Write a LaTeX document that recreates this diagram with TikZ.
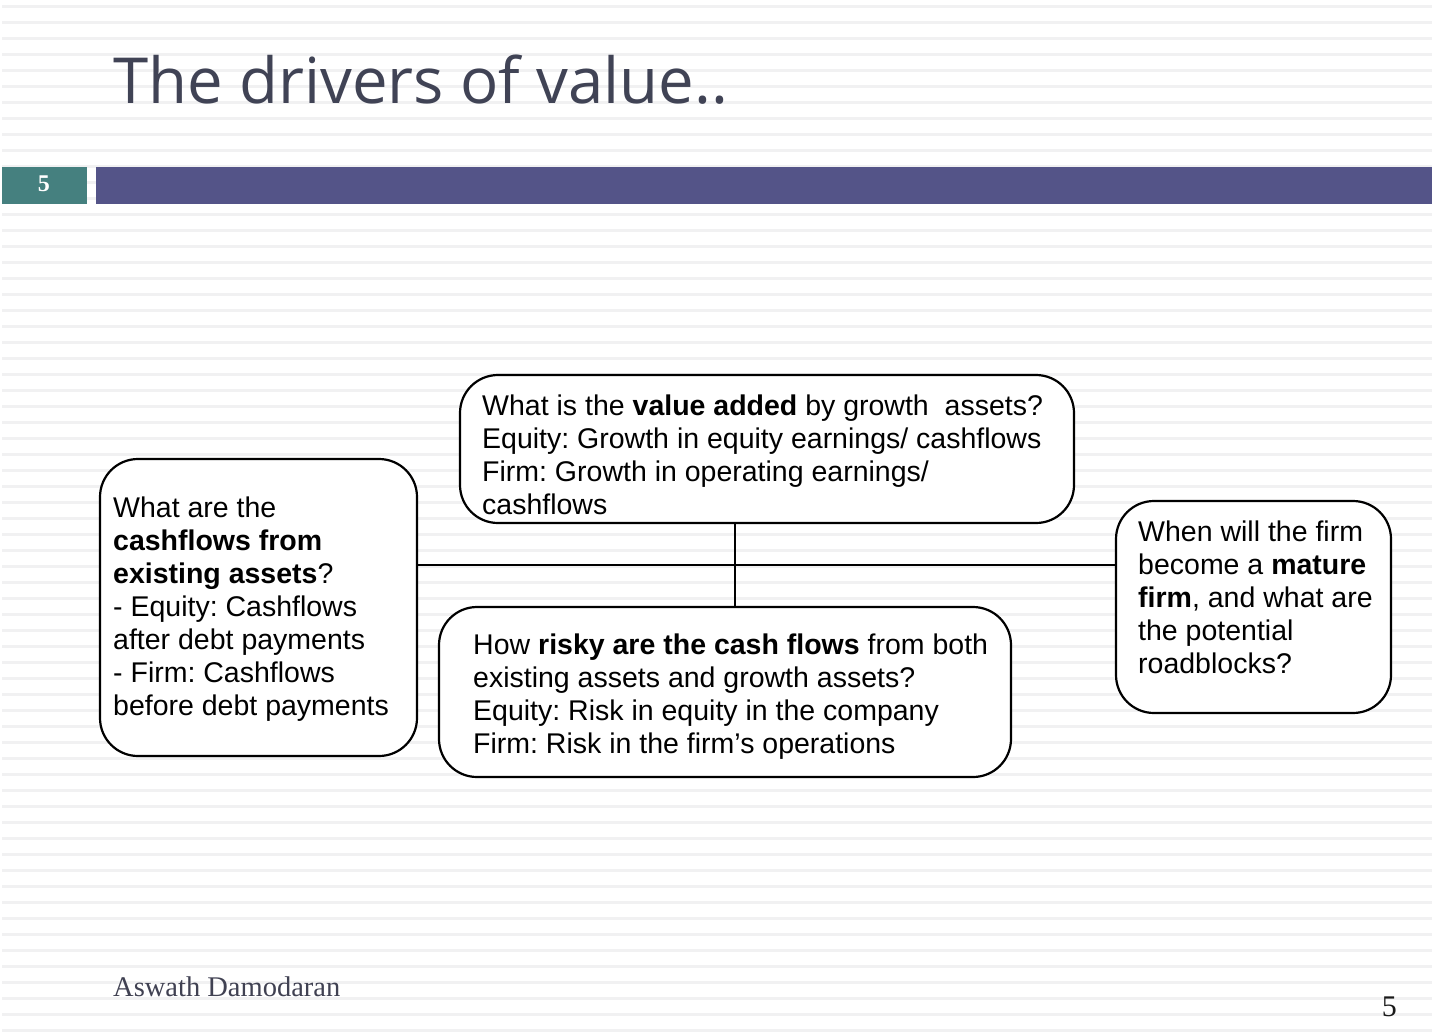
\documentclass[tikz,border=0pt]{standalone}
\usepackage{fontspec}
\setmainfont{Liberation Sans}
\newfontfamily\titlefont{Open Sans}
\newfontfamily\seriffont{Liberation Serif}
\frenchspacing
\definecolor{stripecol}{HTML}{F1F1F2}
\definecolor{tealcol}{HTML}{45807F}
\definecolor{purplecol}{HTML}{545488}
\definecolor{titlecol}{HTML}{404355}
\definecolor{footcol}{HTML}{404152}
\tikzset{
  box/.style={draw=black, fill=white, line width=2.2pt, rounded corners=38pt, inner sep=0pt},
  conn/.style={draw=black, line width=2.2pt},
  txt/.style={anchor=north west, inner sep=0pt, align=left, font=\fontsize{28.5}{33}\selectfont},
}
\begin{document}
\begin{tikzpicture}[x=1pt,y=-1pt]
\useasboundingbox (0,0) rectangle (1432,1031);
\fill[white] (0,0) rectangle (1432,1031);
\foreach \k in {0,...,64} {
  \fill[stripecol] (1.5,{4.6+16*\k}) rectangle (1432,{8+16*\k});
}
% title
\node[anchor=base west, inner sep=0pt, text=titlecol, font=\titlefont\fontsize{63.5}{70}\selectfont] (title) at (113,103.3) {The drivers of value..};
% bars
\node[fill=tealcol, inner sep=0pt, minimum width=85.6pt, minimum height=37.3pt] (numbar) at (44.5,185.3) {};
\node[inner sep=0pt, text=white, font=\seriffont\bfseries\fontsize{24}{26}\selectfont] (num) at (43.8,183.4) {5};
\fill[purplecol] (96,166.7) rectangle (1432,204);
% boxes
\node[box, minimum width=317pt, minimum height=297pt] (left) at (258.5,607.5) {};
\node[box, minimum width=614pt, minimum height=148pt] (top) at (767,449) {};
\node[box, minimum width=572pt, minimum height=170pt] (bottom) at (725,692) {};
\node[box, minimum width=275pt, minimum height=212pt] (right) at (1253.5,607) {};
% connectors
\coordinate (j) at (735,565);
\draw[conn] (left.east |- j) -- (right.west |- j);
\draw[conn] (top.south -| j) -- (bottom.north -| j);
% texts
\node[txt] (toptext) at (482,394.5) {What is the \textbf{value added} by growth~ assets?\\Equity: Growth in equity earnings/ cashflows\\Firm: Growth in operating earnings/\\cashflows};
\node[txt] (bottomtext) at (473,634) {How \textbf{risky are the cash flows} from both\\existing assets and growth assets?\\Equity: Risk in equity in the company\\Firm: Risk in the firm’s operations};
\node[txt] (lefttext) at (113,497) {What are the\\\textbf{cashflows from}\\\textbf{existing assets}?\\- Equity: Cashflows\\after debt payments\\- Firm: Cashflows\\before debt payments};
\node[txt] (righttext) at (1138,521) {When will the firm\\become a \textbf{mature}\\\textbf{firm}, and what are\\the potential\\roadblocks?};
% footer
\node[anchor=base west, inner sep=0pt, text=footcol, font=\seriffont\fontsize{28.5}{30}\selectfont] (author) at (113,996) {Aswath Damodaran};
\node[anchor=base east, inner sep=0pt, text=black!90, font=\seriffont\fontsize{30}{32}\selectfont] (page) at (1397,1016) {5};
\end{tikzpicture}
\end{document}
